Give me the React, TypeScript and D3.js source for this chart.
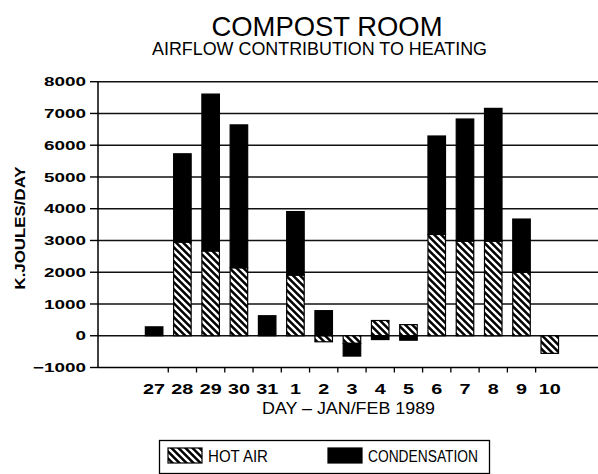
import React from "react";
import * as d3 from "d3";

const days = ["27", "28", "29", "30", "31", "1", "2", "3", "4", "5", "6", "7", "8", "9", "10"];
const hotAir = [0, 2950, 2670, 2140, 0, 1910, -190, -240, 480, 350, 3190, 2980, 2980, 2000, -555];
const condensation = [280, 2780, 4940, 4500, 630, 2000, 790, -400, -120, -140, 3100, 3845, 4180, 1675, 0];
const yTicks = [-1000, 0, 1000, 2000, 3000, 4000, 5000, 6000, 7000, 8000];
const seriesNames = ["HOT AIR", "CONDENSATION"];

const W = 598;
const H = 474;
const axisX = 98;
const rightX = 598;

export default function App() {
  const y = d3.scaleLinear().domain([-1000, 8000]).range([367.5, 81.7]);
  const x = d3
    .scaleBand<string>()
    .domain(days)
    .range([140, 563.9])
    .paddingInner(0.38)
    .paddingOuter(0.19);

  const rows = days.map((d, i) => ({ day: d, hot: hotAir[i], cond: condensation[i] }));
  const stack = d3
    .stack<any>()
    .keys(["hot", "cond"])
    .offset(d3.stackOffsetDiverging);
  const layers = stack(rows);

  const step = x.step();
  const x0 = x.range()[0];
  const boundaries = days.slice(1).map((_, k) => x0 + step * (k + 1));

  const font = "'Liberation Sans', Arial, sans-serif";

  return (
    <svg
      width={W}
      height={H}
      style={{ position: "absolute", left: 0, top: 0, background: "#fff" }}
    >
      <defs>
        <pattern id="hatch" patternUnits="userSpaceOnUse" width="7" height="7">
          <rect width="7" height="7" fill="#000" />
          <path d="M0,0 L7,7 M-1,6 L1,8 M6,-1 L8,1" stroke="#fff" strokeWidth="2.4" />
        </pattern>
      </defs>
      <rect width={W} height={H} fill="#fff" />

      {/* title */}
      <text
        x={327}
        y={35.5}
        textAnchor="middle"
        fontFamily={font}
        fontSize={28}
        fontWeight={300}
        textLength={231}
        lengthAdjust="spacingAndGlyphs"
        fill="#000"
      >
        COMPOST ROOM
      </text>
      <text
        x={319.5}
        y={55}
        textAnchor="middle"
        fontFamily={font}
        fontSize={17.5}
        fontWeight={500}
        textLength={335}
        lengthAdjust="spacingAndGlyphs"
        fill="#000"
      >
        AIRFLOW CONTRIBUTION TO HEATING
      </text>

      {/* gridlines */}
      {yTicks
        .filter((t) => t > -1000)
        .map((t) => (
          <line
            key={"g" + t}
            x1={axisX}
            x2={rightX}
            y1={y(t)}
            y2={y(t)}
            stroke="#111"
            strokeWidth={1.4}
          />
        ))}

      {/* bars */}
      {layers.map((layer, li) =>
        layer.map((seg, i) => {
          const top = y(Math.max(seg[0], seg[1]));
          const bot = y(Math.min(seg[0], seg[1]));
          if (Math.abs(seg[1] - seg[0]) < 1e-6) return null;
          return (
            <rect
              key={li + "-" + i}
              x={x(days[i])}
              y={top}
              width={x.bandwidth()}
              height={bot - top}
              fill={li === 0 ? "url(#hatch)" : "#000"}
              stroke="#000"
              strokeWidth={1.2}
            />
          );
        })
      )}

      {/* axes */}
      <line x1={axisX} x2={axisX} y1={y(8000)} y2={y(-1000)} stroke="#000" strokeWidth={1.5} />
      <line x1={axisX} x2={rightX} y1={y(-1000)} y2={y(-1000)} stroke="#000" strokeWidth={1.5} />
      {yTicks.map((t) => {
        const label = String(t).replace("-", "\u2212");
        const digits = String(Math.abs(t)).length;
        const len = digits * 10.5 + (t < 0 ? 11 : 0);
        return (
          <g key={"yt" + t}>
            <line x1={90} x2={axisX} y1={y(t)} y2={y(t)} stroke="#000" strokeWidth={1.4} />
            <text
              x={86}
              y={y(t) + 4.6}
              textAnchor="end"
              fontFamily={font}
              fontSize={13}
              fontWeight={700}
              textLength={len}
              lengthAdjust="spacingAndGlyphs"
              fill="#000"
            >
              {label}
            </text>
          </g>
        );
      })}
      {boundaries.map((b, k) => (
        <line key={"xt" + k} x1={b} x2={b} y1={y(-1000)} y2={y(-1000) + 5} stroke="#000" strokeWidth={1.3} />
      ))}
      {days.map((d) => (
        <text
          key={"xl" + d}
          x={(x(d) as number) + x.bandwidth() / 2}
          y={393.5}
          textAnchor="middle"
          fontFamily={font}
          fontSize={14}
          fontWeight={700}
          textLength={d.length * 11}
          lengthAdjust="spacingAndGlyphs"
          fill="#000"
        >
          {d}
        </text>
      ))}

      {/* axis titles */}
      <text
        x={348.5}
        y={414}
        textAnchor="middle"
        fontFamily={font}
        fontSize={16}
        fontWeight={500}
        textLength={173}
        lengthAdjust="spacingAndGlyphs"
        fill="#000"
      >
        DAY – JAN/FEB 1989
      </text>
      <text
        transform="translate(25,228) rotate(-90)"
        textAnchor="middle"
        fontFamily={font}
        fontSize={15.5}
        fontWeight={700}
        textLength={123}
        lengthAdjust="spacingAndGlyphs"
        fill="#000"
      >
        K.JOULES/DAY
      </text>

      {/* legend */}
      <rect x={159.5} y={440.5} width={330} height={33} fill="none" stroke="#000" strokeWidth={1.3} />
      <rect x={168} y={448} width={34} height={15} fill="url(#hatch)" stroke="#000" strokeWidth={1.2} />
      <text
        x={208}
        y={461.5}
        fontFamily={font}
        fontSize={16}
        fontWeight={500}
        textLength={60}
        lengthAdjust="spacingAndGlyphs"
        fill="#000"
      >
        {seriesNames[0]}
      </text>
      <rect x={328} y={448} width={34} height={15} fill="#000" stroke="#000" strokeWidth={1.2} />
      <text
        x={368}
        y={461.5}
        fontFamily={font}
        fontSize={16}
        fontWeight={500}
        textLength={110}
        lengthAdjust="spacingAndGlyphs"
        fill="#000"
      >
        {seriesNames[1]}
      </text>
    </svg>
  );
}
